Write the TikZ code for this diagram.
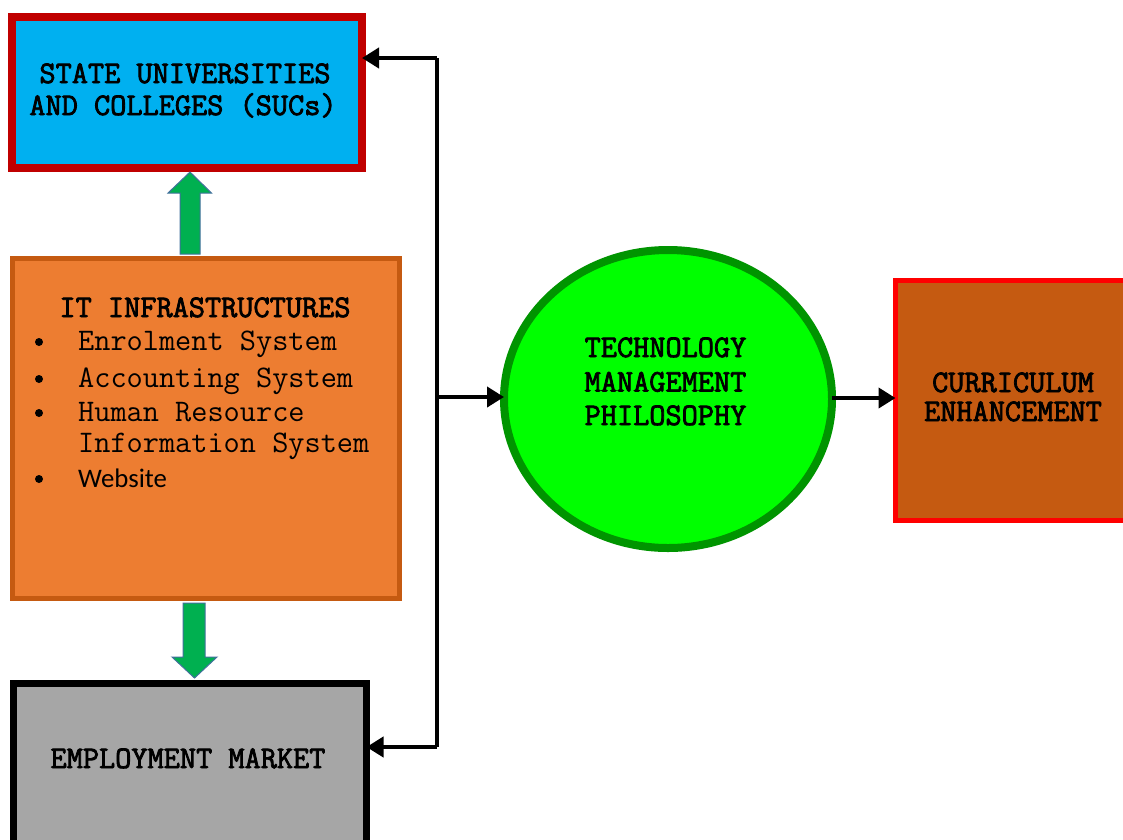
\documentclass[tikz,border=0pt]{standalone}
\usepackage{fontspec}
\newfontfamily\mono[AutoFakeBold=2.5]{Latin Modern Mono}
\newfontfamily\calib{Carlito}
\usetikzlibrary{shapes.geometric,arrows.meta}
\definecolor{sucfill}{HTML}{00B0F0}
\definecolor{sucline}{HTML}{C00000}
\definecolor{itfill}{HTML}{ED7D31}
\definecolor{itline}{HTML}{C55A11}
\definecolor{emfill}{HTML}{A6A6A6}
\definecolor{tmfill}{HTML}{00FF00}
\definecolor{tmline}{HTML}{009400}
\definecolor{cefill}{HTML}{C55A11}
\definecolor{celine}{HTML}{FF0000}
\definecolor{garrow}{HTML}{00B050}
\definecolor{garrowline}{HTML}{41719C}
\tikzset{
  boxnode/.style={rectangle, inner sep=0pt, outer sep=0pt},
  txt/.style={font=\mono\bfseries\fontsize{31.4}{32}\selectfont, anchor=base, inner sep=0pt},
  itemtxt/.style={font=\mono\fontsize{31.4}{32}\selectfont, anchor=base west, inner sep=0pt},
  bul/.style={circle, fill=black, inner sep=0pt, minimum size=8pt},
  conn/.style={line width=4pt, -{Triangle[length=17pt,width=20pt]}},
  blockarrow/.style={fill=garrow, draw=garrowline, line width=1pt},
}
\begin{document}
\begin{tikzpicture}[x=1pt,y=-1pt]
\useasboundingbox (0,0) rectangle (1123,839);
\fill[white] (0,0) rectangle (1123,839);
% boxes
\node[boxnode, fill=sucfill, draw=sucline, line width=8pt, minimum width=350pt, minimum height=151pt] (suc) at (187,92.5) {};
\node[boxnode, fill=itfill, draw=itline, line width=5pt, minimum width=387pt, minimum height=340pt] (it) at (206,428.5) {};
\node[boxnode, fill=emfill, draw=black, line width=7pt, minimum width=353pt, minimum height=160pt] (em) at (190,763.5) {};
\node[ellipse, inner sep=0pt, outer sep=0pt, fill=tmfill, draw=tmline, line width=8pt, minimum width=328pt, minimum height=298pt] (tm) at (668,399) {};
\node[boxnode, fill=cefill, draw=celine, line width=5pt, minimum width=232pt, minimum height=240pt] (ce) at (1011.5,400.5) {};
% texts
\node[txt] (suct1) at (185,83) {STATE UNIVERSITIES};
\node[txt] (suct2) at (183,115) {AND COLLEGES (SUCs)};
\node[txt] (itt) at (205,317) {IT INFRASTRUCTURES};
\node[bul] (b1) at (39,342) {};
\node[bul] (b2) at (39,379) {};
\node[bul] (b3) at (39,413) {};
\node[bul] (b4) at (39,479) {};
\node[itemtxt] (i1) at (78,350) {Enrolment System};
\node[itemtxt] (i2) at (78,387) {Accounting System};
\node[itemtxt] (i3) at (78,421) {Human Resource};
\node[itemtxt] (i3b) at (78,452) {Information System};
\node[anchor=base west, inner sep=0pt, font=\calib\fontsize{26.8}{32}\selectfont] (i4) at (78,487) {Website};
\node[txt] (emt) at (188,768) {EMPLOYMENT MARKET};
\node[txt] (tmt1) at (665.5,357) {TECHNOLOGY};
\node[txt] (tmt2) at (665.5,391.5) {MANAGEMENT};
\node[txt] (tmt3) at (665.5,425) {PHILOSOPHY};
\node[txt] (cet1) at (1013,392) {CURRICULUM};
\node[txt] (cet2) at (1013,421) {ENHANCEMENT};
% block arrows
\filldraw[blockarrow] (180,254) -- (180,193) -- (168,193) -- (190,172) -- (211.5,193) -- (200,193) -- (200,254) -- cycle;
\filldraw[blockarrow] (183,603) -- (183,657) -- (172,657) -- (194.5,678) -- (217,657) -- (205,657) -- (205,603) -- cycle;
% black connectors
\coordinate (jtop) at (437,58);
\coordinate (jbot) at (437,747);
\coordinate (jmid) at (437,397);
\draw[line width=4pt] (jtop) -- (jbot);
\draw[conn] (jtop) -- (suc.east |- jtop);
\draw[conn] (jbot) -- (em.east |- jbot);
\draw[conn] (jmid) -- (tm.west |- jmid);
\draw[conn] (tm.east |- 0,398) -- (ce.west |- 0,398);
\end{tikzpicture}
\end{document}
